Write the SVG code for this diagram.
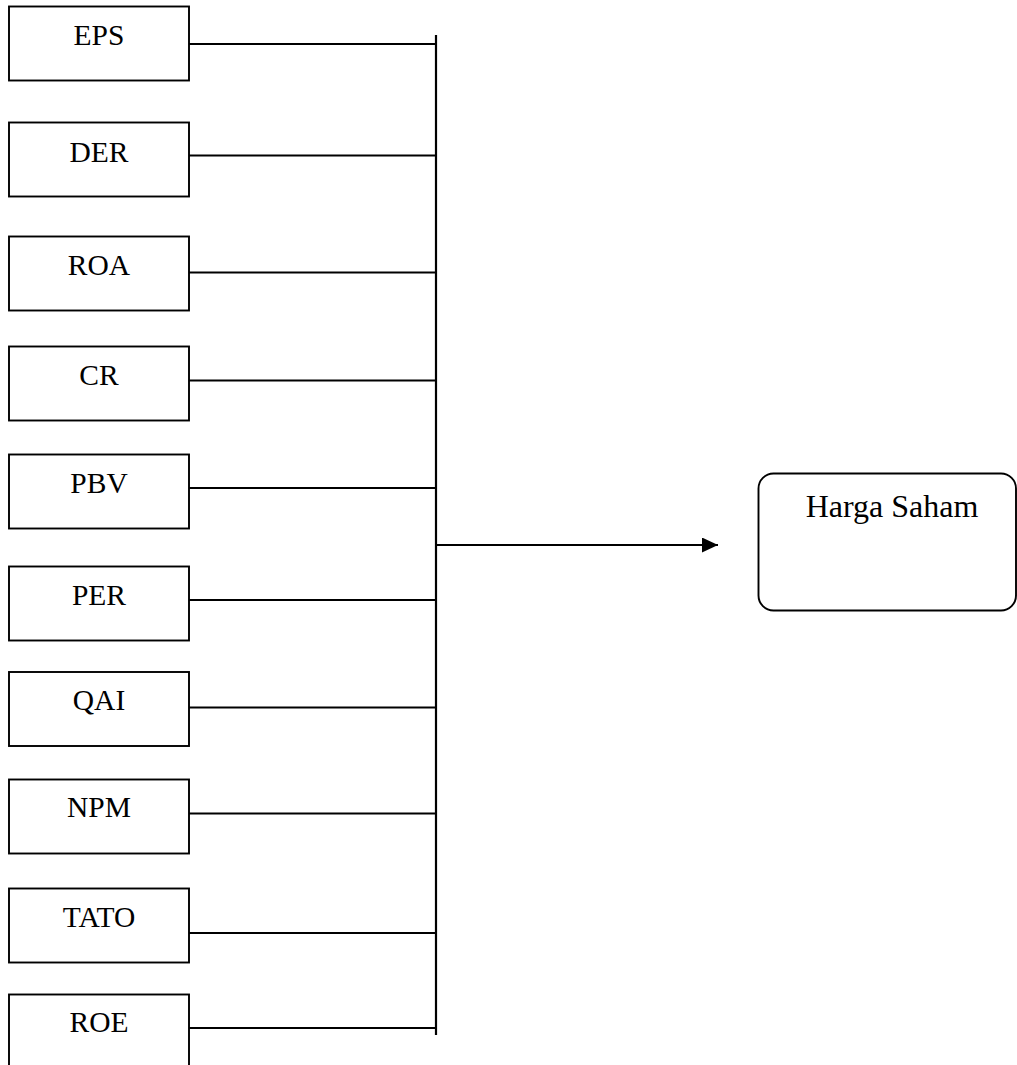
<svg xmlns="http://www.w3.org/2000/svg" width="1017" height="1065" viewBox="0 0 1017 1065">
<style>
.box{fill:#fff;stroke:#000;stroke-width:1.9}
.lbl{font-family:"Liberation Serif","Times New Roman",serif;font-size:29.5px;fill:#000;text-anchor:middle}
.con{stroke:#000;stroke-width:1.8;fill:none}
</style>
<defs>
<marker id="ah" markerWidth="16" markerHeight="15" refX="16" refY="7.5" orient="auto" markerUnits="userSpaceOnUse">
<path d="M0,0 L16,7.5 L0,15 Z" fill="#000"/>
</marker>
</defs>
<rect width="1017" height="1065" fill="#fff"/>
<g id="connectors">
<line class="con" x1="189" y1="44" x2="436" y2="44"/>
<line class="con" x1="189" y1="155.5" x2="436" y2="155.5"/>
<line class="con" x1="189" y1="272.5" x2="436" y2="272.5"/>
<line class="con" x1="189" y1="380.5" x2="436" y2="380.5"/>
<line class="con" x1="189" y1="488" x2="436" y2="488"/>
<line class="con" x1="189" y1="600" x2="436" y2="600"/>
<line class="con" x1="189" y1="707.5" x2="436" y2="707.5"/>
<line class="con" x1="189" y1="813.5" x2="436" y2="813.5"/>
<line class="con" x1="189" y1="933" x2="436" y2="933"/>
<line class="con" x1="189" y1="1028" x2="436" y2="1028"/>
<line x1="436" y1="35" x2="436" y2="1035" stroke="#000" stroke-width="2.2"/>
<line class="con" x1="436" y1="545" x2="718" y2="545" marker-end="url(#ah)"/>
</g>
<g id="node-eps"><rect class="box" x="9" y="6.5" width="180" height="74"/><text class="lbl" x="99" y="44.5">EPS</text></g>
<g id="node-der"><rect class="box" x="9" y="122.5" width="180" height="74"/><text class="lbl" x="99" y="161.5">DER</text></g>
<g id="node-roa"><rect class="box" x="9" y="236.5" width="180" height="74"/><text class="lbl" x="99" y="275">ROA</text></g>
<g id="node-cr"><rect class="box" x="9" y="346.5" width="180" height="74"/><text class="lbl" x="99" y="385">CR</text></g>
<g id="node-pbv"><rect class="box" x="9" y="454.5" width="180" height="74"/><text class="lbl" x="99" y="492.5">PBV</text></g>
<g id="node-per"><rect class="box" x="9" y="566.5" width="180" height="74"/><text class="lbl" x="99" y="605">PER</text></g>
<g id="node-qai"><rect class="box" x="9" y="672" width="180" height="74"/><text class="lbl" x="99" y="710">QAI</text></g>
<g id="node-npm"><rect class="box" x="9" y="779.5" width="180" height="74"/><text class="lbl" x="99" y="817">NPM</text></g>
<g id="node-tato"><rect class="box" x="9" y="888.5" width="180" height="74"/><text class="lbl" x="99" y="927">TATO</text></g>
<g id="node-roe"><rect class="box" x="9" y="994.5" width="180" height="80"/><text class="lbl" x="99" y="1032">ROE</text></g>
<g id="node-harga-saham"><rect class="box" x="758.5" y="473.5" width="257.5" height="137" rx="15" ry="15"/><text class="lbl" x="892" y="516.5" style="font-size:32px">Harga Saham</text></g>
</svg>
